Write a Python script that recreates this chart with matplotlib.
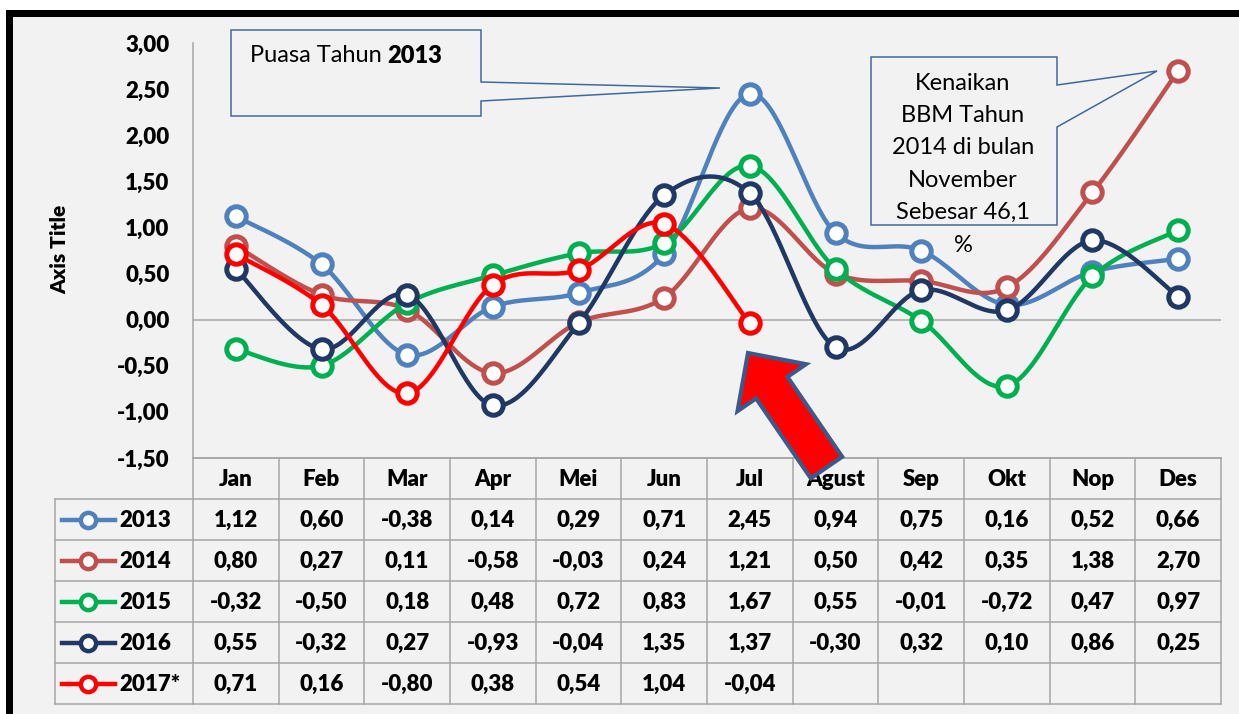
import numpy as np
import matplotlib
matplotlib.use('Agg')
import matplotlib.pyplot as plt
from matplotlib.patches import Polygon, Rectangle

plt.rcParams['font.family'] = ['Lato', 'DejaVu Sans']

# data
months = ['Jan', 'Feb', 'Mar', 'Apr', 'Mei', 'Jun', 'Jul', 'Agust', 'Sep', 'Okt', 'Nop', 'Des']
years = ['2013', '2014', '2015', '2016', '2017*']
v2013 = [1.12, 0.60, -0.38, 0.14, 0.29, 0.71, 2.45, 0.94, 0.75, 0.16, 0.52, 0.66]
v2014 = [0.80, 0.27, 0.11, -0.58, -0.03, 0.24, 1.21, 0.50, 0.42, 0.35, 1.38, 2.70]
v2015 = [-0.32, -0.50, 0.18, 0.48, 0.72, 0.83, 1.67, 0.55, -0.01, -0.72, 0.47, 0.97]
v2016 = [0.55, -0.32, 0.27, -0.93, -0.04, 1.35, 1.37, -0.30, 0.32, 0.10, 0.86, 0.25]
v2017 = [0.71, 0.16, -0.80, 0.38, 0.54, 1.04, -0.04]
series = [v2013, v2014, v2015, v2016, v2017]
colors = ['#4F81BD', '#C0504D', '#00B050', '#1F3864', '#FF0000']

W, H = 1239, 714
BG = '#F2F2F2'
GRID = '#A6A6A6'
FS = 16
WT = 'heavy'


def fmt(v):
    return f'{v:.2f}'.replace('.', ',')


def smooth(x, y, n=40):
    # excel-like smoothed line (catmull-rom bezier)
    p = np.column_stack([x, y]).astype(float)
    pts = np.vstack([p[0], p, p[-1]])
    out = []
    t = np.linspace(0, 1, n)[:, None]
    for i in range(1, len(pts) - 2):
        p0, p1, p2, p3 = pts[i - 1], pts[i], pts[i + 1], pts[i + 2]
        c1 = p1 + (p2 - p0) / 6
        c2 = p2 - (p3 - p1) / 6
        seg = (1 - t)**3 * p1 + 3 * (1 - t)**2 * t * c1 + 3 * (1 - t) * t**2 * c2 + t**3 * p2
        out.append(seg if i == 1 else seg[1:])
    s = np.vstack(out)
    return s[:, 0], s[:, 1]


fig = plt.figure(figsize=(W / 100, H / 100), dpi=100, facecolor=BG)

# plot area
px_l, px_r, px_t, px_b = 193, 1221, 43, 458
ax = fig.add_axes([px_l / W, 1 - px_b / H, (px_r - px_l) / W, (px_b - px_t) / H])
ax.set_facecolor('none')
ax.set_xlim(-0.5, 11.5)
ax.set_ylim(-1.5, 3.0)
for s in ['top', 'right']:
    ax.spines[s].set_visible(False)
for s in ['left', 'bottom']:
    ax.spines[s].set_color(GRID)
    ax.spines[s].set_linewidth(1.1)
ax.axhline(0, color=GRID, lw=1.1, zorder=1)
ax.set_xticks([])
yt = np.arange(-1.5, 3.01, 0.5)
ax.set_yticks(yt)
ax.set_yticklabels([fmt(v) for v in yt], fontsize=FS, fontweight=WT)
ax.tick_params(axis='y', length=0, pad=17)

for k, (vals, c) in enumerate(zip(series, colors)):
    x = np.arange(len(vals))
    sx, sy = smooth(x, vals)
    ax.plot(sx, sy, color=c, lw=3.2, zorder=3 + k, solid_capstyle='round')
    ax.plot(x, vals, 'o', ms=14, mfc='white', mec=c, mew=3.6, zorder=3 + k)

fig.text(60 / W, 1 - 249 / H, 'Axis Title', rotation=90, fontsize=15,
         fontweight=WT, ha='center', va='center')

# overlay for table, callouts, border
ov = fig.add_axes([0, 0, 1, 1])
ov.set_xlim(0, W)
ov.set_ylim(H, 0)
ov.axis('off')
ov.patch.set_alpha(0)

cw = (px_r - px_l) / 12
rh = 41
leg_l = 55
row_tops = [px_b + rh * i for i in range(7)]
lw_t = 1.1
ov.plot([px_l, px_r], [px_b, px_b], color=GRID, lw=lw_t)
for yy in row_tops[1:]:
    ov.plot([leg_l, px_r], [yy, yy], color=GRID, lw=lw_t)
ov.plot([leg_l, leg_l], [row_tops[1], row_tops[-1]], color=GRID, lw=lw_t)
for k in range(13):
    xx = px_l + k * cw
    ov.plot([xx, xx], [px_b, row_tops[-1]], color=GRID, lw=lw_t)

for k, m in enumerate(months):
    ov.text(px_l + (k + 0.5) * cw, px_b + rh / 2 + 1, m, ha='center', va='center',
            fontsize=FS, fontweight=WT)

for r, (yr, vals, c) in enumerate(zip(years, series, colors)):
    yc = row_tops[r + 1] + rh / 2
    ov.plot([62, 115], [yc, yc], color=c, lw=3.2)
    ov.plot([88], [yc], 'o', ms=11, mfc='white', mec=c, mew=3.2)
    ov.text(119, yc + 1, yr, ha='left', va='center', fontsize=FS, fontweight=WT)
    for k, v in enumerate(vals):
        ov.text(px_l + (k + 0.5) * cw, yc + 1, fmt(v), ha='center', va='center',
                fontsize=FS, fontweight=WT)

# callouts
cedge = '#41689C'
c1 = [(231, 30), (481, 30), (481, 82), (720, 88), (481, 101), (481, 116), (231, 116)]
ov.add_patch(Polygon(c1, closed=True, fc=BG, ec=cedge, lw=1.1, zorder=10))
t1 = ov.text(250, 56, 'Puasa Tahun', fontsize=17, ha='left', va='center', zorder=11)
fig.canvas.draw()
bb = t1.get_window_extent()
x_end = bb.x1 + 6
ov.text(x_end, H - 56, '2013', fontsize=17, fontweight=WT, ha='left', va='center',
        zorder=11, transform=None)

c2 = [(871, 57), (1057, 57), (1057, 85), (1157, 71), (1057, 127), (1057, 225), (871, 225)]
ov.add_patch(Polygon(c2, closed=True, fc=BG, ec=cedge, lw=1.1, zorder=10))
lines2 = ['Kenaikan', 'BBM Tahun', '2014 di bulan', 'November', 'Sebesar 46,1', '%']
for i, t in enumerate(lines2):
    ov.text(963, 83 + 32.4 * i, t, fontsize=17, ha='center', va='center', zorder=11)

# red block arrow
tip = np.array([748.0, 353.0])
tail = np.array([826.5, 467.5])
d = (tip - tail) / np.linalg.norm(tip - tail)
nrm = np.array([-d[1], d[0]])
sw, hw, hl = 38, 83, 42
base = tip - hl * d
arrow = [tail + nrm * sw / 2, base + nrm * sw / 2, base + nrm * hw / 2, tip,
         base - nrm * hw / 2, base - nrm * sw / 2, tail - nrm * sw / 2]
ov.add_patch(Polygon(arrow, closed=True, fc='#FF0000', ec='#3A5A8C', lw=3,
                     joinstyle='miter', zorder=12))

# outer frame
ov.add_patch(Rectangle((0, 0), W, 10, fc='white', ec='none', zorder=20))
ov.add_patch(Rectangle((0, 0), 6, H, fc='white', ec='none', zorder=20))
ov.add_patch(Rectangle((6, 10), W, 7, fc='black', ec='none', zorder=21))
ov.add_patch(Rectangle((6, 10), 7, H, fc='black', ec='none', zorder=21))

fig.savefig('out.png', dpi=100, facecolor=BG)
